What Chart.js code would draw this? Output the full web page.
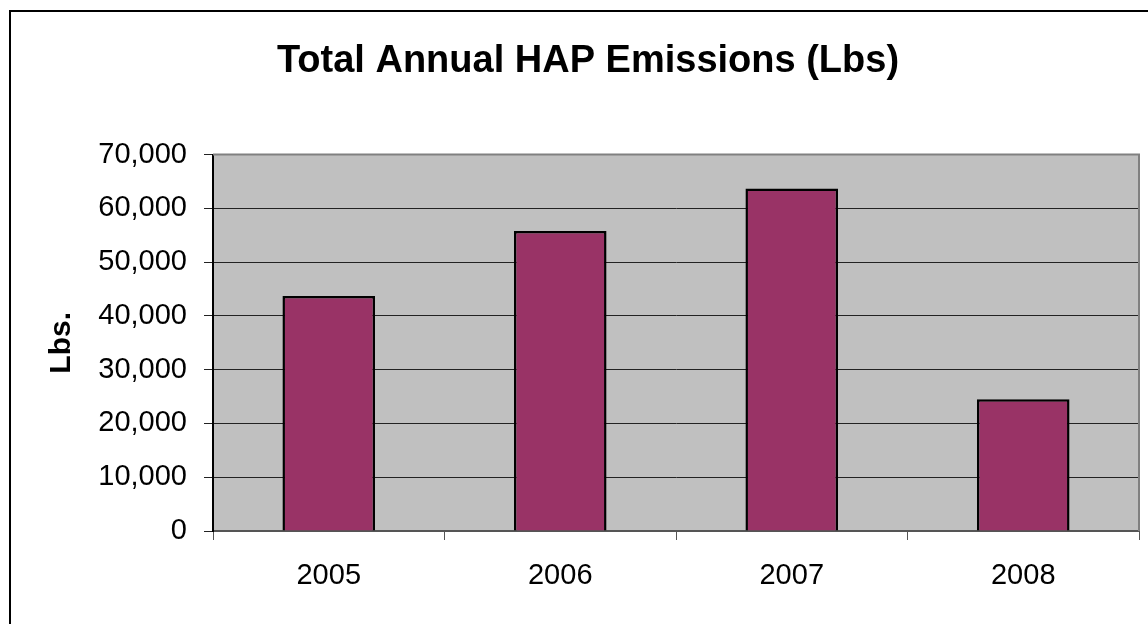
<!DOCTYPE html>
<html>
<head>
<meta charset="utf-8">
<script src="https://cdn.jsdelivr.net/npm/chart.js@4/dist/chart.umd.min.js"></script>
<style>
  html, body { margin: 0; padding: 0; background: #fff; overflow: hidden; }
  #wrap { position: relative; width: 1148px; height: 624px; }
  #frame { position: absolute; left: 9px; top: 10px; width: 1300px; height: 800px;
           border-left: 2px solid #000; border-top: 2px solid #000; pointer-events: none; }
  canvas { position: absolute; left: 0; top: 0; }
</style>
</head>
<body>
<div id="wrap">
  <canvas id="c" width="1148" height="624"></canvas>
  <div id="frame"></div>
</div>
<script>
const chartTitle = "Total Annual HAP Emissions (Lbs)";
const yAxisTitle = "Lbs.";
const years = ["2005", "2006", "2007", "2008"];
const emissions = [43700, 55800, 63700, 24500];
const yTicksMax = 70000;
const yTicksStep = 10000;

const plotBg = {
  id: 'plotBg',
  beforeDraw(chart) {
    const {ctx, chartArea: a} = chart;
    ctx.save();
    ctx.fillStyle = '#c0c0c0';
    ctx.fillRect(a.left, a.top, a.right - a.left, a.bottom - a.top);
    ctx.restore();
  },
  afterDraw(chart) {
    const {ctx, chartArea: a} = chart;
    ctx.save();
    ctx.strokeStyle = '#808080';
    ctx.lineWidth = 2;
    ctx.beginPath();
    ctx.moveTo(a.left, a.top);
    ctx.lineTo(a.right, a.top);
    ctx.lineTo(a.right, a.bottom);
    ctx.stroke();
    ctx.restore();
  }
};

new Chart(document.getElementById('c'), {
  type: 'bar',
  data: {
    labels: years,
    datasets: [{
      data: emissions,
      backgroundColor: '#993366',
      borderColor: '#000',
      borderWidth: 2.5,
      barPercentage: 0.4,
      categoryPercentage: 1.0
    }]
  },
  options: {
    responsive: false,
    animation: false,
    devicePixelRatio: 1,
    layout: { padding: { left: 37, right: 9, top: 0, bottom: 0 } },
    plugins: {
      legend: { display: false },
      tooltip: { enabled: false },
      title: {
        display: true,
        text: chartTitle,
        color: '#000',
        font: { family: "'Liberation Sans', Arial, sans-serif", size: 38, weight: 'bold' },
        padding: { top: 39, bottom: 70 }
      }
    },
    scales: {
      x: {
        afterFit(s) { s.height = 93; },
        grid: { display: true, drawOnChartArea: false, tickLength: 9, color: '#555', lineWidth: 1, offset: true },
        border: { display: true, color: '#555', width: 2 },
        ticks: {
          color: '#000',
          padding: 19,
          font: { family: "'Liberation Sans', Arial, sans-serif", size: 29 }
        }
      },
      y: {
        min: 0,
        max: yTicksMax,
        afterFit(s) { s.width = 176; },
        grid: { display: true, drawOnChartArea: true, tickLength: 9, color: '#222', lineWidth: 1 },
        border: { display: true, color: '#000', width: 2 },
        ticks: {
          stepSize: yTicksStep,
          color: '#000',
          padding: 17,
          font: { family: "'Liberation Sans', Arial, sans-serif", size: 29 },
          callback: v => v.toLocaleString('en-US')
        },
        title: {
          display: true,
          text: yAxisTitle,
          color: '#000',
          padding: { top: 7, bottom: 0 },
          font: { family: "'Liberation Sans', Arial, sans-serif", size: 30, weight: 'bold' }
        }
      }
    }
  },
  plugins: [plotBg]
});
</script>
</body>
</html>
